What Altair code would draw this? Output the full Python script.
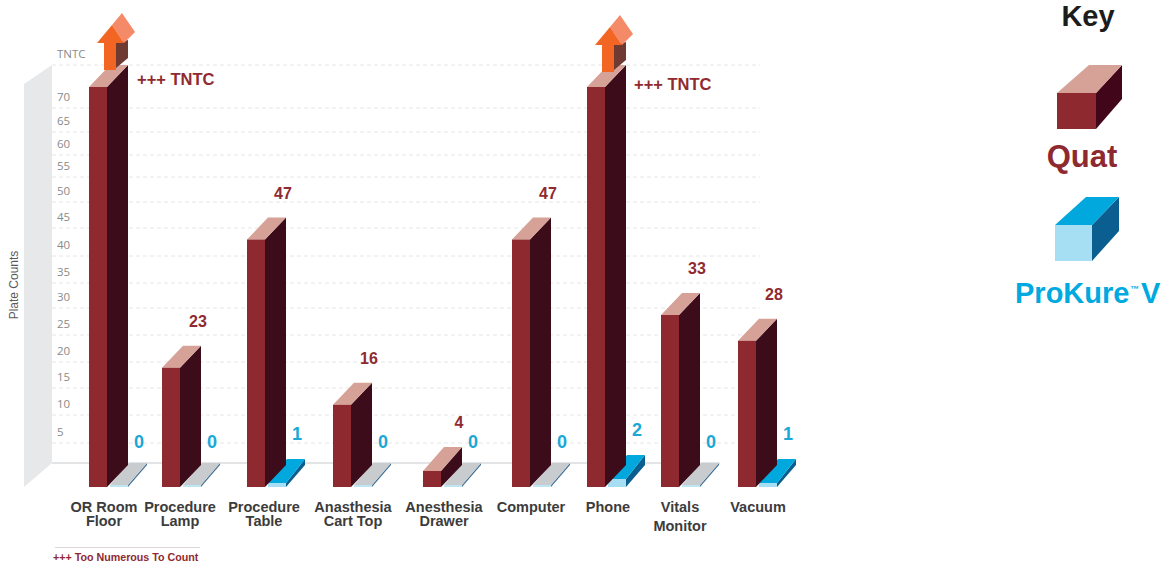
import altair as alt
import numpy as np
import pandas as pd

# Values
CATEGORIES = ["OR Room Floor", "Procedure Lamp", "Procedure Table", "Anasthesia Cart Top",
              "Anesthesia Drawer", "Computer", "Phone", "Vitals Monitor", "Vacuum"]
TNTC_LEVEL = 80
QUAT = [TNTC_LEVEL, 23, 47, 16, 4, 47, TNTC_LEVEL, 33, 28]
PROKURE = [0, 0, 1, 0, 0, 0, 2, 0, 1]
TICKS = [5, 10, 15, 20, 25, 30, 35, 40, 45, 50, 55, 60, 65, 70]

# Layout: left edge of each column and the hand-spaced vertical axis
BAR_LEFT = [89, 162, 247, 333, 423, 512, 587, 661, 738]
FRONT_FLOOR, BACK_FLOOR = -6, -0.5
AXIS_DOMAIN = [FRONT_FLOOR, 0] + TICKS + [TNTC_LEVEL]
AXIS_RANGE = [487, 463, 443, 415, 388, 362, 335, 308, 283, 256, 228, 202, 177, 155, 132, 108, 65]
BAR_W, QUAT_DX, KURE_DX = 18, 21, 19

RED, RED_DARK, RED_TOP = "#8e2a2f", "#3d0c1b", "#d6a297"
BLUE_FRONT, BLUE_TOP, BLUE_SIDE = "#a6dff4", "#00a8de", "#0a5f90"
PLATE_TOP, PLATE_FRONT, PLATE_EDGE = "#c9cccf", "#bfe4f2", "#3f6f96"
LABEL_RED, LABEL_BLUE = "#8f2a30", "#1aa8d6"
FONT = "Liberation Sans"

value_scale = alt.Scale(domain=AXIS_DOMAIN, range=AXIS_RANGE, zero=False, nice=False)
pixel_x = alt.Scale(domain=[0, 1173], range=[0, 1173], zero=False, nice=False)
pixel_y = alt.Scale(domain=[0, 568], range=[0, 568], zero=False, nice=False)


def nearer(v, depth):
    """Value that lands `depth` pixels below v on the axis: the front plane of a box."""
    px = np.interp(v, AXIS_DOMAIN, AXIS_RANGE) + depth
    return float(np.interp(px, AXIS_RANGE[::-1], AXIS_DOMAIN[::-1]))


def X(name="x"):
    return alt.X(f"{name}:Q", scale=pixel_x, axis=None)


def Y(name, scale):
    return alt.Y(f"{name}:Q", scale=scale, axis=None)


def band(rows, color, scale=value_scale):
    """Vertical-sided polygon: rows of (key, x, upper, lower)."""
    df = pd.DataFrame(rows, columns=["key", "x", "upper", "lower"])
    return alt.Chart(df).mark_area(color=color, interpolate="linear", opacity=1).encode(
        x=X(),
        y=Y("upper", scale),
        y2=alt.Y2("lower"),
        detail="key:N",
    )


def slant(rows, color):
    """Horizontal-sided polygon: rows of (key, y, left, right)."""
    df = pd.DataFrame(rows, columns=["key", "y", "left", "right"])
    return alt.Chart(df).mark_area(color=color, orient="horizontal", opacity=1).encode(
        y=Y("y", value_scale),
        x=X("left"),
        x2=alt.X2("right"),
        detail="key:N",
    )


def face(rows, color):
    df = pd.DataFrame(rows, columns=["x", "x2", "top", "bottom"])
    return alt.Chart(df).mark_rect(color=color).encode(
        x=X(), x2=alt.X2("x2"), y=Y("top", value_scale), y2=alt.Y2("bottom")
    )


def text(rows, **style):
    df = pd.DataFrame(rows, columns=["x", "y", "t"])
    style.setdefault("font", FONT)
    return alt.Chart(df).mark_text(**style).encode(x=X(), y=Y("y", pixel_y), text="t:N")


def box_side(key, x, v, depth, dx, back_floor):
    return [(key, x + BAR_W, nearer(v, depth), FRONT_FLOOR),
            (key, x + BAR_W + dx, v, back_floor)]


def box_top(key, x, v, depth, dx):
    return [(key, nearer(v, depth), x, x + BAR_W),
            (key, v, x + dx, x + BAR_W + dx)]


layers = []

# Side wall, dotted grid and floor
layers.append(band([("wall", 24, 84, 487), ("wall", 52, 65, 463)], "#e6e8ea", pixel_y))
grid = pd.DataFrame({"y": TICKS + [TNTC_LEVEL]})
layers.append(alt.Chart(grid).mark_rule(color="#e6e6e6", strokeDash=[4, 3], strokeWidth=1).encode(
    y=Y("y", value_scale), x=alt.value(52), x2=alt.value(760)))
floor = pd.DataFrame({"y": [0]})
layers.append(alt.Chart(floor).mark_rule(color="#c6cacd", strokeWidth=1.2).encode(
    y=Y("y", value_scale), x=alt.value(52), x2=alt.value(720)))

# Axis labels sit just above their grid lines
tick_df = pd.DataFrame({"y": TICKS + [TNTC_LEVEL], "t": [str(t) for t in TICKS] + ["TNTC"], "x": 57})
layers.append(alt.Chart(tick_df).mark_text(font="Open Sans", fontSize=11.5, color="#8a8a8a", align="left", dy=-10).encode(
    x=X(), y=Y("y", value_scale), text="t:N"))
layers.append(text([(14, 285, "Plate Counts")], fontSize=12, color="#5a5a5a", angle=270))

# ProKure V boxes, flat plates where the count is zero
for i, (left, v) in enumerate(zip(BAR_LEFT, PROKURE)):
    x = left + 21
    key = f"k{i}"
    if v == 0:
        depth = 22
        colors = (PLATE_FRONT, PLATE_EDGE, PLATE_TOP)
    else:
        depth = 24
        colors = (BLUE_FRONT, BLUE_SIDE, BLUE_TOP)
    layers.append(band(box_side(key, x, v, depth, KURE_DX, BACK_FLOOR), colors[1]))
    layers.append(slant(box_top(key, x, v, depth, KURE_DX), colors[2]))
    layers.append(face([(x, x + BAR_W, nearer(v, depth), FRONT_FLOOR)], colors[0]))

# Quat columns
for i, (left, v) in enumerate(zip(BAR_LEFT, QUAT)):
    key = f"q{i}"
    depth = 24 if v <= 5 else 22
    layers.append(band(box_side(key, left, v, depth, QUAT_DX, BACK_FLOOR), RED_DARK))
    layers.append(slant(box_top(key, left, v, depth, QUAT_DX), RED_TOP))
    layers.append(face([(left, left + BAR_W, nearer(v, depth), FRONT_FLOOR)], RED))


# "Off the scale" arrows above the TNTC columns
def arrow(name, dx, dy):
    def pts(*rows):
        return [(name, a + dx, b + dy, c + dy) for a, b, c in rows]
    return [
        band(pts((116, 43, 68), (128, 40, 58)), "#6e3a32", pixel_y),
        band(pts((112, 25, 25), (122, 13, 40), (124, 16, 43), (135, 32, 32)), "#f58a68", pixel_y),
        band(pts((104, 43, 70), (116, 43, 70)), "#f26522", pixel_y),
        band(pts((97, 43, 43), (112, 25, 43), (124, 43, 43)), "#f26522", pixel_y),
    ]


layers += arrow("a1", 0, 0) + arrow("a2", 498, 2)

# Count labels
counts = pd.DataFrame({"x": [l + 36 for l in BAR_LEFT], "y": QUAT, "t": [str(v) for v in QUAT]})
counts = counts[counts.y != TNTC_LEVEL]
layers.append(alt.Chart(counts).mark_text(font=FONT, fontWeight="bold", fontSize=16, color=LABEL_RED, dy=-24).encode(
    x=X(), y=Y("y", value_scale), text="t:N"))
kure = pd.DataFrame({"x": [l + 50 for l in BAR_LEFT], "y": PROKURE, "t": [str(v) for v in PROKURE]})
for subset, shift in ((kure[kure.y == 0], -20), (kure[kure.y != 0], -24)):
    layers.append(alt.Chart(subset).mark_text(font=FONT, fontWeight="bold", fontSize=18, color=LABEL_BLUE, dy=shift).encode(
        x=X(), y=Y("y", value_scale), text="t:N"))
layers.append(text([(137, 80, "+++ TNTC"), (634, 85, "+++ TNTC")], fontWeight="bold", fontSize=16.5,
                   color=LABEL_RED, align="left"))

# Category labels
cat_rows = [(104, 508, "OR Room"), (104, 522, "Floor"), (180, 508, "Procedure"), (180, 522, "Lamp"),
            (264, 508, "Procedure"), (264, 522, "Table"), (353, 508, "Anasthesia"), (353, 522, "Cart Top"),
            (444, 508, "Anesthesia"), (444, 522, "Drawer"), (531, 508, "Computer"), (608, 508, "Phone"),
            (680, 508, "Vitals"), (680, 527, "Monitor"), (758, 508, "Vacuum")]
layers.append(text(cat_rows, fontWeight="bold", fontSize=14.5, color="#3c3c3c"))

# Footnote
layers.append(band([("fn", 55, 547, 547.8), ("fn", 200, 547, 547.8)], "#d3c8c8", pixel_y))
layers.append(text([(53, 558, "+++ Too Numerous To Count")], fontWeight="bold", fontSize=10.7,
                   color=LABEL_RED, align="left"))

# Key
layers.append(text([(1088, 26, "Key")], fontWeight="bold", fontSize=29, color="#1c1c1c", baseline="alphabetic"))
layers.append(band([("kq", 1096, 93, 129), ("kq", 1122, 65, 99)], "#42061a", pixel_y))
layers.append(band([("kt", 1057, 93, 93), ("kt", 1089, 65, 93), ("kt", 1096, 65, 93), ("kt", 1122, 65, 65)], RED_TOP, pixel_y))
layers.append(band([("kf", 1057, 93, 129), ("kf", 1096, 93, 129)], RED, pixel_y))
layers.append(text([(1082, 167, "Quat")], fontWeight="bold", fontSize=31, color=RED, baseline="alphabetic"))
layers.append(band([("pq", 1092, 225, 261), ("pq", 1119, 197, 231)], BLUE_SIDE, pixel_y))
layers.append(band([("pt", 1055, 225, 225), ("pt", 1086, 197, 225), ("pt", 1092, 197, 225), ("pt", 1119, 197, 197)], BLUE_TOP, pixel_y))
layers.append(band([("pf", 1055, 225, 261), ("pf", 1092, 225, 261)], BLUE_FRONT, pixel_y))
layers.append(text([(1015, 303, "ProKure"), (1141, 303, "V")], fontWeight="bold", fontSize=29, color="#00a9e0",
                   baseline="alphabetic", align="left"))
layers.append(text([(1130, 292, "™")], fontWeight="bold", fontSize=9, color="#00a9e0",
                   baseline="alphabetic", align="left"))

chart = (
    alt.layer(*layers)
    .resolve_scale(y="independent")
    .properties(width=1173, height=568, padding=0, autosize=alt.AutoSizeParams(type="none"), background="white")
    .configure_view(stroke=None)
)
chart.save("out.html", embed_options={"renderer": "svg", "actions": False})
